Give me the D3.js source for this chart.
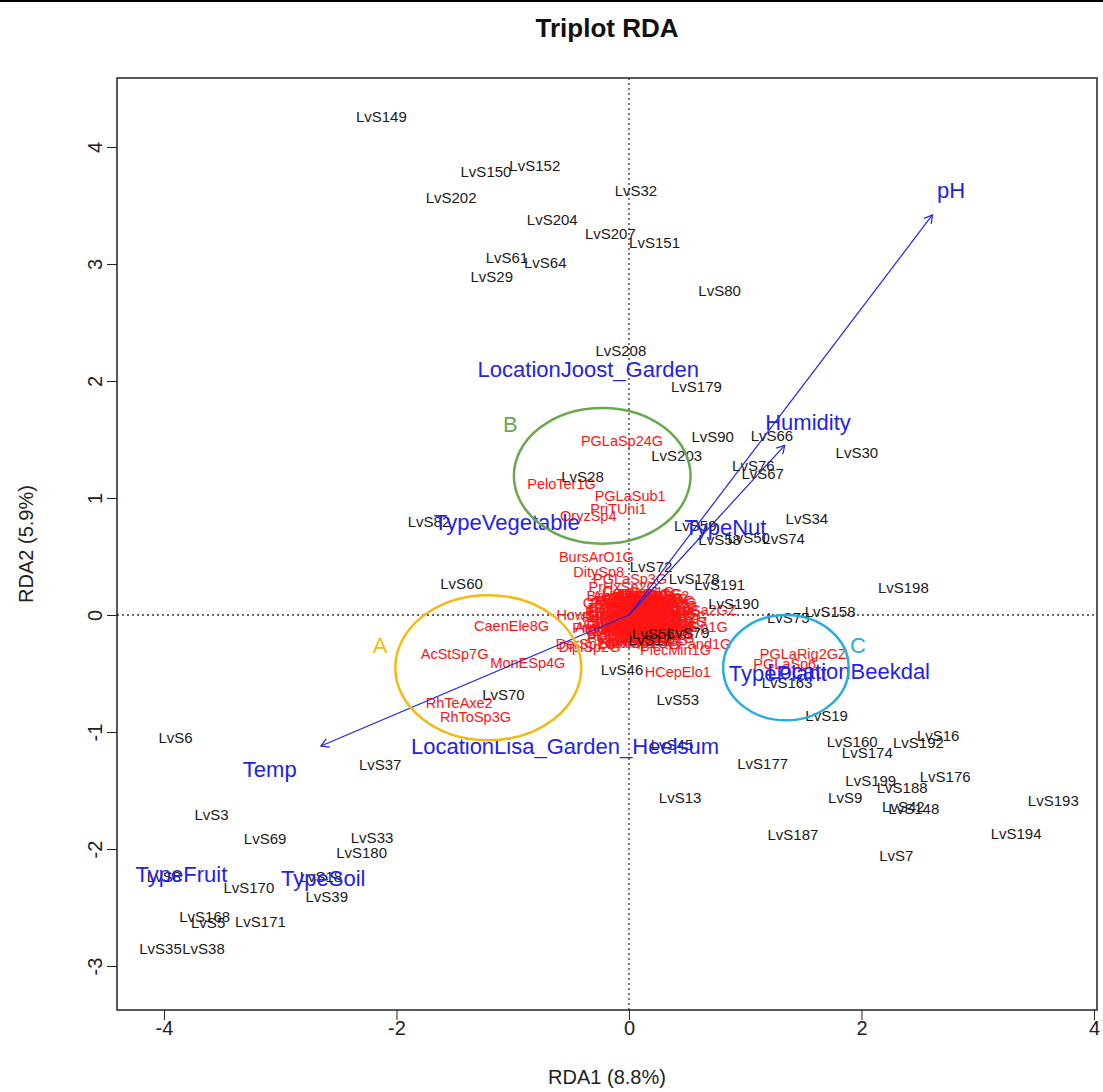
<!DOCTYPE html>
<html><head><meta charset="utf-8">
<script src="https://cdn.jsdelivr.net/npm/d3@7"></script>
<style>body{margin:0;background:#fff;} svg text{font-family:"Liberation Sans",Arial,sans-serif;}</style>
</head><body><svg id="c" width="1103" height="1092"></svg>
<script>
// ---------- data (RDA scores) ----------
const xTicks = [-4, -2, 0, 2, 4];
const yTicks = [-3, -2, -1, 0, 1, 2, 3, 4];

const siteNames = ["LvS149","LvS150","LvS152","LvS202","LvS32","LvS204","LvS207","LvS151","LvS61","LvS64","LvS29","LvS80","LvS208","LvS179","LvS90","LvS66","LvS203","LvS30","LvS76","LvS67","LvS28","LvS34","LvS82","LvS59","LvS58","LvS50","LvS74","LvS72","LvS178","LvS191","LvS60","LvS198","LvS190","LvS158","LvS75","LvS56","LvS79","LvS17","LvS46","LvS163","LvS70","LvS53","LvS19","LvS6","LvS16","LvS160","LvS192","LvS45","LvS174","LvS177","LvS37","LvS199","LvS176","LvS188","LvS13","LvS9","LvS193","LvS42","LvS148","LvS3","LvS187","LvS194","LvS33","LvS69","LvS180","LvS7","LvS8","LvS18","LvS170","LvS39","LvS168","LvS5","LvS171","LvS35","LvS38"];
const siteX = [-2.13,-1.23,-0.81,-1.53,0.06,-0.66,-0.16,0.22,-1.05,-0.72,-1.18,0.78,-0.07,0.58,0.72,1.23,0.41,1.96,1.07,1.15,-0.40,1.53,-1.72,0.57,0.78,1.03,1.33,0.19,0.56,0.78,-1.44,2.36,0.90,1.73,1.37,0.21,0.51,0.18,-0.06,1.36,-1.08,0.42,1.70,-3.90,2.66,1.92,2.49,0.37,2.05,1.15,-2.14,2.08,2.72,2.35,0.44,1.86,3.65,2.36,2.45,-3.59,1.41,3.33,-2.21,-3.13,-2.30,2.30,-4.00,-2.65,-3.27,-2.60,-3.65,-3.62,-3.17,-4.03,-3.66];
const siteY = [4.26,3.79,3.84,3.57,3.63,3.38,3.26,3.18,3.05,3.01,2.89,2.77,2.26,1.95,1.52,1.53,1.36,1.39,1.28,1.21,1.18,0.82,0.80,0.76,0.64,0.66,0.65,0.41,0.31,0.26,0.27,0.23,0.10,0.03,-0.02,-0.16,-0.15,-0.21,-0.47,-0.58,-0.68,-0.72,-0.86,-1.05,-1.03,-1.08,-1.09,-1.11,-1.18,-1.27,-1.28,-1.42,-1.38,-1.48,-1.56,-1.56,-1.59,-1.64,-1.66,-1.71,-1.88,-1.87,-1.90,-1.91,-2.03,-2.06,-2.24,-2.24,-2.33,-2.41,-2.58,-2.63,-2.62,-2.85,-2.85];

const spNames = ["BursArO1G","DitySp8","PGLaSp3G","PrHxSp2G","HowSp1G","PrisSp3G","DiplSp2G","DerSp1G","PlecMin1G","EPand1G","TylSp1G","PGLaSa2GZ","HCepElo1","CaenEle8G","AcStSp7G","MonESp4G","RhTeAxe2","RhToSp3G","PGLaSp24G","PeloTer1G","PGLaSub1","PriTUni1","OryzSp4","PGLaRig2GZ","PGLaSp6",
"AcroSp1G","AphelAv1","AporSp2G","BunoSp1G","CephSp3G","ChilSp1G","CricSp2G","DiphSp1G","DorySp4G","EucSp1G","FiliSp2G","HelSp1G","MesoSp3G","MonhSp1G","NothoSp2","PanaSp1G","PlecSp5G","PratSp2G","PrisSp1G","RhabSp3G","TeraSp1G","TylSp2G","WilsSp1G","XiphSp1G","AlaiSp2G","AnapSp1G","BastSp1G","CepCap1G","DiplSp3G","EudorSp2","HemiSp1G","MesRhSp1","MylonSp2","NygoSp1G","OdonSp1G","ParaSp4G","PrisAc2G","ProtSp1G","SeinSp1G","TripSp2G","ZeldSp1G","AcrobSp3","AmpSp1G","BoleSp2G","ChronSp1","ClarSp1G","DitySp2G","EumoSp1G","GeoSp1G","HoplSp2G","LabSp1G","MalSp1G","PGLaSp9G","PGLaSp12G","PGLaSp5G","PGLaSp7G","PGLaSp1G","PriTSp2G","RhTeSp1G","PanaRed1",
"AcSp2G","AlloSp1","AnaSp3G","AphSp2G","AquaSp1","BasSp2G","CalSp1G","CarSp2G","CerSp1G","CoslSp1","CyatSp2","DasySp1","DiscSp2","DolSp1G","EnchSp1","EpiSp2G","ErSp1G","FicSp2G","GracSp1","HaliSp2","IotSp1G","IronSp2","LepSp1G","LongSp2","MacSp1G","MeloSp2","MicSp1G","MyloSp1","NeoSp2G","OxySp1G","PaSp3G","PelSp2G","PlatSp1","PunSp2G","RotSp1G","ScutSp2","SphSp1G","TobSp2G","TrichSp1","TylnSp2"];
const spX = [-0.28,-0.26,0.01,-0.05,-0.34,-0.22,-0.34,-0.37,0.40,0.61,0.61,0.57,0.42,-1.01,-1.50,-0.87,-1.46,-1.32,-0.06,-0.58,0.01,-0.09,-0.35,1.50,1.34,
0.05,0.12,-0.02,0.20,0.28,0.30,0.22,0.10,-0.02,-0.10,-0.12,0.00,0.08,0.16,0.24,0.14,0.04,-0.06,0.18,0.26,0.34,0.32,0.16,0.02,-0.10,-0.16,-0.08,0.08,0.20,0.10,-0.04,0.06,0.12,0.26,0.36,0.30,-0.14,0.00,0.22,0.18,0.04,-0.08,0.14,0.28,-0.02,0.10,0.20,0.24,-0.12,0.06,0.16,0.08,-0.04,0.32,0.12,-0.06,0.02,0.18,0.26,0.14,
0.00,0.08,0.16,0.24,0.30,-0.08,0.12,0.20,0.04,-0.14,0.28,0.10,0.22,0.34,-0.02,0.06,0.14,0.18,-0.10,0.26,0.02,0.12,0.32,-0.06,0.08,0.22,0.16,0.00,0.24,-0.12,0.10,0.30,0.06,0.18,-0.04,0.14,0.26,0.20,0.04,0.12];
const spY = [0.50,0.37,0.31,0.24,0.00,-0.11,-0.27,-0.25,-0.30,-0.25,-0.10,0.04,-0.49,-0.09,-0.33,-0.41,-0.75,-0.87,1.49,1.12,1.02,0.91,0.85,-0.33,-0.42,
0.10,0.14,0.16,0.08,0.02,-0.08,-0.14,-0.18,-0.14,-0.06,0.04,0.02,0.00,-0.04,-0.02,0.06,-0.08,0.10,0.18,0.12,0.00,-0.16,-0.22,-0.22,-0.18,-0.10,0.16,0.20,-0.08,0.08,-0.02,-0.12,-0.08,-0.10,-0.06,0.08,-0.02,0.12,0.02,-0.16,0.06,-0.12,0.12,-0.20,0.06,-0.04,0.14,0.06,0.10,0.16,0.00,-0.24,-0.20,-0.02,-0.12,0.02,-0.06,0.04,-0.06,-0.14,
-0.10,0.04,0.10,-0.14,0.04,0.06,-0.20,-0.02,0.14,-0.14,0.16,0.12,0.10,-0.10,-0.24,0.00,-0.06,-0.10,0.00,0.00,0.10,0.18,0.10,-0.08,-0.16,-0.20,0.14,-0.04,0.14,-0.08,0.02,-0.12,-0.20,0.08,0.12,0.04,-0.16,0.18,-0.14,-0.02];

const cenNames = ["LocationJoost_Garden","TypeVegetable","TypeNut","TypePlant","LocationBeekdal","LocationLisa_Garden_Heelsum","TypeFruit","TypeSoil"];
const cenX = [-0.35,-1.05,0.83,1.28,1.89,-0.55,-3.85,-2.63];
const cenY = [2.10,0.79,0.75,-0.50,-0.48,-1.12,-2.22,-2.25];

const arrNames = ["pH","Humidity","Temp"];
const arrX = [2.61,1.34,-2.65];
const arrY = [3.42,1.45,-1.12];
const arrLabX = [2.77,1.54,-3.09];
const arrLabY = [3.63,1.65,-1.32];

const grpNames = ["A","B","C"];
const grpCx = [-1.21,-0.23,1.35];
const grpCy = [-0.45,1.19,-0.45];
const grpRx = [0.80,0.76,0.54];
const grpRy = [0.62,0.58,0.45];
const grpLabX = [-2.14,-1.02,1.97];
const grpLabY = [-0.26,1.63,-0.26];
const grpColors = ["#f5b914","#6aa84f","#27aede"];

// ---------- drawing ----------
const L = 117, R = 1097, T = 78, B = 1010;
const x = d3.scaleLinear().domain([-4.404, 4.026]).range([L, R]);
const y = d3.scaleLinear().domain([-3.376, 4.59]).range([B, T]);
const svg = d3.select("#c");
const FONT = '"Liberation Sans",Arial,sans-serif';
const blue = "#2323e6";

svg.append("line").attr("x1",0).attr("x2",1103).attr("y1",1).attr("y2",1).attr("stroke","#000").attr("stroke-width",2);

svg.append("text").attr("x",(L+R)/2).attr("y",37).attr("text-anchor","middle")
  .attr("font-weight","bold").attr("font-size",26).attr("fill","#111").text("Triplot RDA");

// zero lines
svg.append("line").attr("x1",x(0)).attr("x2",x(0)).attr("y1",T).attr("y2",B)
  .attr("stroke","#333").attr("stroke-width",1.3).attr("stroke-dasharray","2,3");
svg.append("line").attr("x1",L).attr("x2",R).attr("y1",y(0)).attr("y2",y(0))
  .attr("stroke","#333").attr("stroke-width",1.3).attr("stroke-dasharray","2,3");

// axes
const gx = svg.append("g").attr("transform",`translate(0,${B})`)
  .call(d3.axisBottom(x).tickValues(xTicks).tickSize(10).tickPadding(1).tickFormat(d=>String(d)));
gx.select(".domain").remove();
gx.attr("font-size",20).attr("font-family",FONT);
gx.selectAll("line").attr("stroke","#222");
gx.selectAll("text").attr("fill","#222");

const gy = svg.append("g").attr("transform",`translate(${L},0)`)
  .call(d3.axisLeft(y).tickValues(yTicks).tickSize(10).tickFormat(d=>String(d)));
gy.select(".domain").remove();
gy.attr("font-size",20).attr("font-family",FONT);
gy.selectAll("line").attr("stroke","#222");
gy.selectAll("text").attr("x",null).attr("dy",null).attr("text-anchor","middle")
  .attr("fill","#222").attr("transform","translate(-15,0) rotate(-90)");

// axis titles
svg.append("text").attr("x",(L+R)/2).attr("y",1084).attr("text-anchor","middle")
  .attr("font-size",20).attr("fill","#222").text("RDA1 (8.8%)");
svg.append("text").attr("transform",`translate(33,${(T+B)/2}) rotate(-90)`).attr("text-anchor","middle")
  .attr("font-size",20).attr("fill","#222").text("RDA2 (5.9%)");

// species (red)
svg.append("g").selectAll("text").data(spNames).join("text")
  .attr("x",(d,i)=>x(spX[i])).attr("y",(d,i)=>y(spY[i])).attr("dy","0.35em")
  .attr("text-anchor","middle").attr("font-size",14.5).attr("fill","#ff1414").text(d=>d);

// sites (black)
svg.append("g").selectAll("text").data(siteNames).join("text")
  .attr("x",(d,i)=>x(siteX[i])).attr("y",(d,i)=>y(siteY[i])).attr("dy","0.35em")
  .attr("text-anchor","middle").attr("font-size",15).attr("fill","#1a1a1a").text(d=>d);

// arrows
const ag = svg.append("g").attr("stroke",blue).attr("stroke-width",1.2).attr("fill","none");
arrNames.forEach((n,i)=>{
  const x0=x(0), y0=y(0), x1=x(arrX[i]), y1=y(arrY[i]);
  ag.append("line").attr("x1",x0).attr("y1",y0).attr("x2",x1).attr("y2",y1);
  const a = Math.atan2(y1-y0, x1-x0), h = 9, w = Math.PI/6;
  const p = d3.path();
  p.moveTo(x1 - h*Math.cos(a-w), y1 - h*Math.sin(a-w));
  p.lineTo(x1, y1);
  p.lineTo(x1 - h*Math.cos(a+w), y1 - h*Math.sin(a+w));
  ag.append("path").attr("d",p.toString());
});
svg.append("g").selectAll("text").data(arrNames).join("text")
  .attr("x",(d,i)=>x(arrLabX[i])).attr("y",(d,i)=>y(arrLabY[i])).attr("dy","0.35em")
  .attr("text-anchor","middle").attr("font-size",22).attr("fill",blue).text(d=>d);

// centroids (blue text)
svg.append("g").selectAll("text").data(cenNames).join("text")
  .attr("x",(d,i)=>x(cenX[i])).attr("y",(d,i)=>y(cenY[i])).attr("dy","0.35em")
  .attr("text-anchor","middle").attr("font-size",22).attr("fill",blue).text(d=>d);

// group ellipses
svg.append("g").selectAll("ellipse").data(grpNames).join("ellipse")
  .attr("cx",(d,i)=>x(grpCx[i])).attr("cy",(d,i)=>y(grpCy[i]))
  .attr("rx",(d,i)=>x(grpCx[i]+grpRx[i])-x(grpCx[i]))
  .attr("ry",(d,i)=>y(grpCy[i])-y(grpCy[i]+grpRy[i]))
  .attr("fill","none").attr("stroke",(d,i)=>grpColors[i]).attr("stroke-width",2.5);
svg.append("g").selectAll("text").data(grpNames).join("text")
  .attr("x",(d,i)=>x(grpLabX[i])).attr("y",(d,i)=>y(grpLabY[i])).attr("dy","0.35em")
  .attr("text-anchor","middle").attr("font-size",22).attr("fill",(d,i)=>grpColors[i]).text(d=>d);

// plot box
svg.append("rect").attr("x",L).attr("y",T).attr("width",R-L).attr("height",B-T)
  .attr("fill","none").attr("stroke","#222").attr("stroke-width",1.5);
</script></body></html>
